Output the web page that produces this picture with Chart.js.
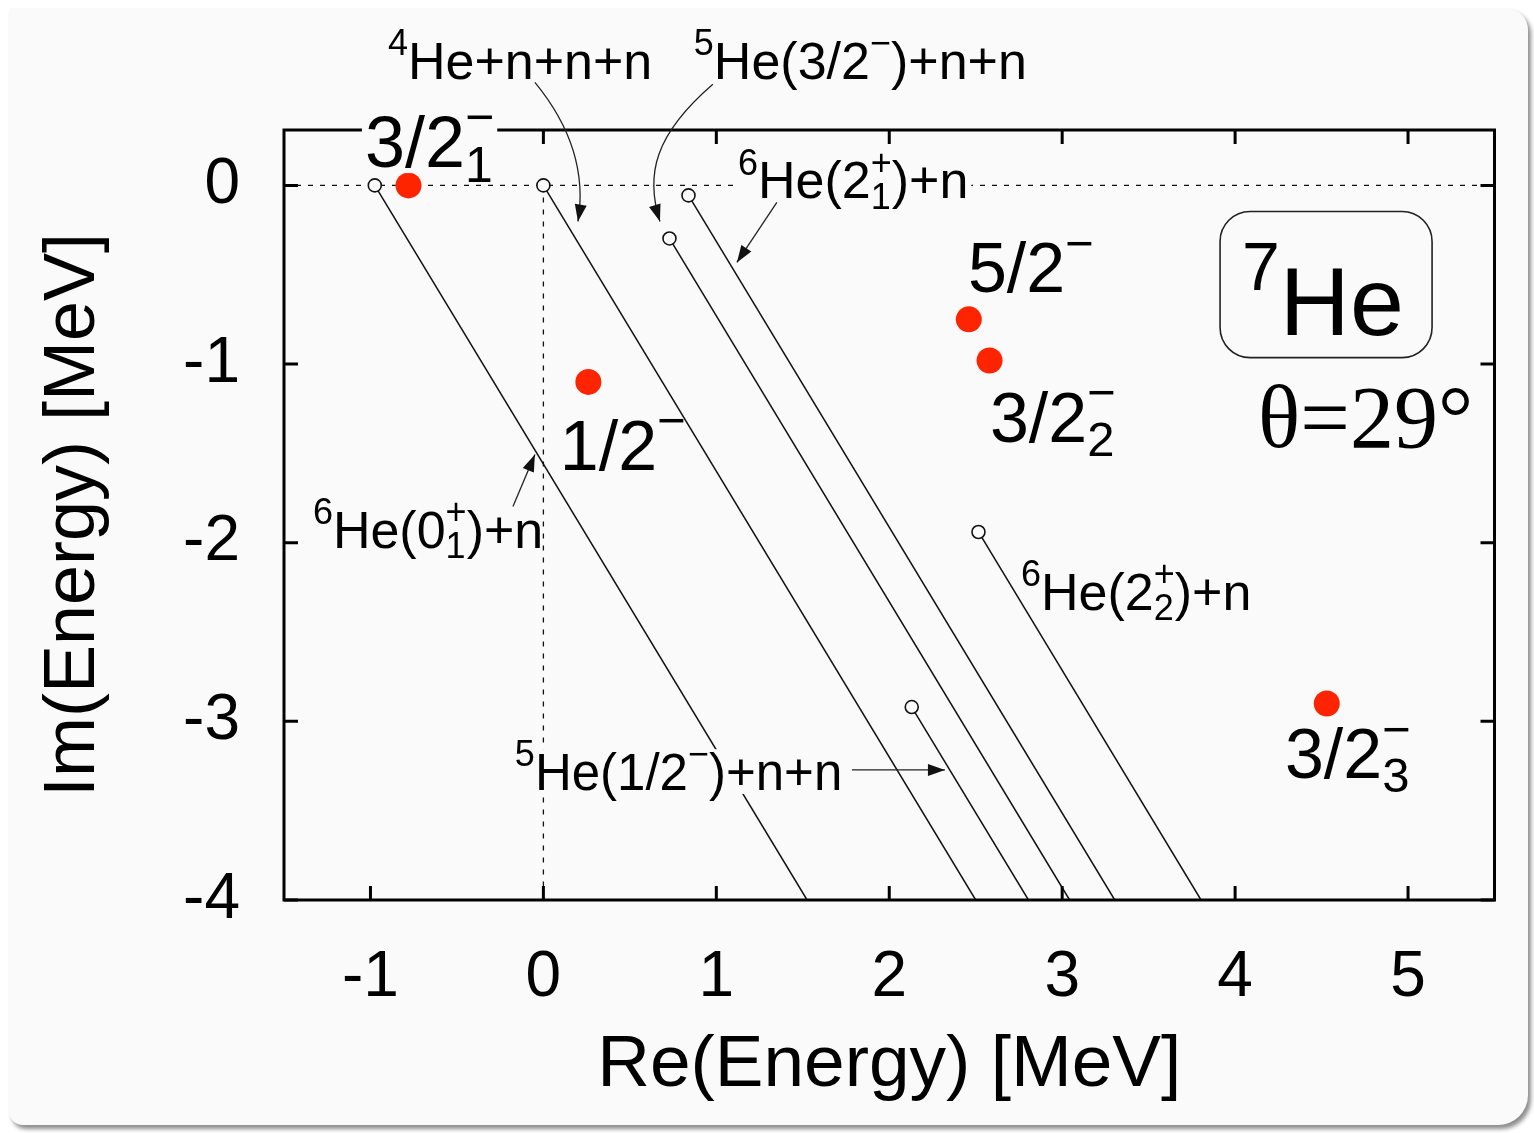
<!DOCTYPE html>
<html>
<head>
<meta charset="utf-8">
<script src="https://cdn.jsdelivr.net/npm/chart.js@4.4.1/dist/chart.umd.min.js"></script>
<style>
  html, body { margin: 0; padding: 0; background: #ffffff; }
  #card { position: absolute; left: 9px; top: 8px; width: 1519px; height: 1117px; background: #fafafa;
          border-radius: 2px 22px 30px 14px; box-shadow: 3px 4px 4px rgba(0,0,0,0.45); }
  #plot { position: absolute; left: 0; top: 0; }
</style>
</head>
<body>
<div id="card"></div>
<canvas id="plot" width="1534" height="1133"></canvas>
<script>
// complex-scaled resonance poles of 7He (red dots)
const resonanceRe = [-0.78, 0.26, 2.46, 2.58, 4.53];
const resonanceIm = [0.0, -1.10, -0.75, -0.98, -2.90];

// thresholds (open circles) and where their 2-theta cut lines leave the frame at Im = -4
const thresholdRe = [-0.975, 0.0, 0.729, 0.839, 2.516, 2.13];
const thresholdIm = [0.0, 0.0, -0.297, -0.056, -1.94, -2.92];
const cutEndRe = [1.525, 2.50, 3.043, 3.304, 3.803, 2.805];
const cutEndIm = [-4, -4, -4, -4, -4, -4];

const xTicks = [-1, 0, 1, 2, 3, 4, 5];
const yTicks = [-4, -3, -2, -1, 0];

const FONT = '"Liberation Sans", Arial, Helvetica, sans-serif';
const BG = '#fafafa';

Chart.defaults.font.family = FONT;

const datasets = [];
datasets.push({
    data: resonanceRe.map((x, i) => ({ x, y: resonanceIm[i] })),
    pointRadius: 13, pointBackgroundColor: 'rgb(255,36,0)', pointBorderWidth: 0, showLine: false
});
datasets.push({
    data: thresholdRe.map((x, i) => ({ x, y: thresholdIm[i] })),
    pointRadius: 6.5, pointBackgroundColor: BG, pointBorderColor: '#111', pointBorderWidth: 1.6, showLine: false
});
thresholdRe.forEach((x, i) => {
    datasets.push({
        data: [{ x, y: thresholdIm[i] }, { x: cutEndRe[i], y: cutEndIm[i] }],
        showLine: true, borderColor: '#111', borderWidth: 1.5, pointRadius: 0
    });
});
// dotted guide lines Im = 0 and Re = 0
datasets.push({
    data: [{ x: -1.5, y: 0 }, { x: 5.5, y: 0 }],
    showLine: true, borderColor: '#111', borderWidth: 1.3, borderDash: [5, 7], pointRadius: 0
});
datasets.push({
    data: [{ x: 0, y: 0 }, { x: 0, y: -4 }],
    showLine: true, borderColor: '#111', borderWidth: 1.3, borderDash: [5, 7], pointRadius: 0
});

// text labels: position in data units, font size, parts (string = normal, {sup, sub} = scripts)
const labels = [
    { x: -0.899, y: 0.594, size: 52, parts: [{ sup: '4' }, 'He+n+n+n'] },
    { x: 0.870, y: 0.594, size: 52, parts: [{ sup: '5' }, 'He(3/2', { sup: '\u2212' }, ')+n+n'] },
    { x: -1.032, y: 0.101, size: 72, parts: ['3/2', { sup: '\u2212', sub: '1' }], box: true },
    { x: 1.125, y: -0.073, size: 52, parts: [{ sup: '6' }, 'He(2', { sup: '+', sub: '1' }, ')+n'], box: true },
    { x: -1.333, y: -2.028, size: 52, parts: [{ sup: '6' }, 'He(0', { sup: '+', sub: '1' }, ')+n'] },
    { x: 0.095, y: -1.591, size: 70, parts: ['1/2', { sup: '\u2212' }] },
    { x: 2.455, y: -0.599, size: 70, parts: ['5/2', { sup: '\u2212' }] },
    { x: 2.582, y: -1.434, size: 70, parts: ['3/2', { sup: '\u2212', sub: '2' }] },
    { x: 2.762, y: -2.375, size: 52, parts: [{ sup: '6' }, 'He(2', { sup: '+', sub: '2' }, ')+n'] },
    { x: 4.288, y: -3.317, size: 70, parts: ['3/2', { sup: '\u2212', sub: '3' }] },
    { x: -0.165, y: -3.384, size: 51, parts: [{ sup: '5' }, 'He(1/2', { sup: '\u2212' }, ')+n+n'], box: true },
    { x: 4.040, y: -0.835, size: 97, parts: [{ sup: '7' }, 'He'] }
];

// arrows: list of control points in data units, head at the last point
const arrows = [
    [[-0.049, 0.577], [0.269, 0.202], [0.200, -0.202]],
    [[0.980, 0.566], [0.645, 0.286], [0.587, 0.062], [0.674, -0.202]],
    [[1.350, -0.095], [1.119, -0.431]],
    [[-0.176, -1.798], [-0.049, -1.507]],
    [[1.784, -3.272], [2.322, -3.272]]
];

function drawRich(ctx, x, y, size, parts, box) {
    const small = Math.round(size * 0.7);
    const mainFont = size + 'px ' + FONT;
    const smallFont = small + 'px ' + FONT;
    const widths = parts.map(p => {
        if (typeof p === 'string') { ctx.font = mainFont; return ctx.measureText(p).width; }
        ctx.font = smallFont;
        return Math.max(p.sup ? ctx.measureText(p.sup).width : 0, p.sub ? ctx.measureText(p.sub).width : 0);
    });
    const total = widths.reduce((a, b) => a + b, 0);
    if (box) {
        ctx.fillStyle = BG;
        ctx.fillRect(x - 3, y - size * 0.8, total + 6, size * 0.88);
    }
    ctx.fillStyle = '#000';
    ctx.textAlign = 'left';
    ctx.textBaseline = 'alphabetic';
    let cx = x;
    parts.forEach((p, i) => {
        if (typeof p === 'string') {
            ctx.font = mainFont;
            ctx.fillText(p, cx, y);
        } else {
            ctx.font = smallFont;
            if (p.sup) ctx.fillText(p.sup, cx, y - size * 0.46);
            if (p.sub) ctx.fillText(p.sub, cx, y + size * 0.2);
        }
        cx += widths[i];
    });
}

function arrowHead(ctx, tx, ty, fx, fy) {
    const a = Math.atan2(ty - fy, tx - fx);
    const len = 17, hw = 6;
    ctx.beginPath();
    ctx.moveTo(tx, ty);
    ctx.lineTo(tx - len * Math.cos(a) + hw * Math.sin(a), ty - len * Math.sin(a) - hw * Math.cos(a));
    ctx.lineTo(tx - len * Math.cos(a) - hw * Math.sin(a), ty - len * Math.sin(a) + hw * Math.cos(a));
    ctx.closePath();
    ctx.fill();
}

const decorPlugin = {
    id: 'decor',
    afterDatasetsDraw(chart) {
        const { ctx, chartArea: a, scales: { x, y } } = chart;
        ctx.save();
        // frame with inward ticks on all four sides
        ctx.strokeStyle = '#000';
        ctx.lineWidth = 3;
        ctx.strokeRect(a.left, a.top, a.right - a.left, a.bottom - a.top);
        ctx.beginPath();
        xTicks.forEach(v => {
            const px = x.getPixelForValue(v);
            ctx.moveTo(px, a.bottom); ctx.lineTo(px, a.bottom - 14);
            ctx.moveTo(px, a.top); ctx.lineTo(px, a.top + 14);
        });
        yTicks.forEach(v => {
            const py = y.getPixelForValue(v);
            ctx.moveTo(a.left, py); ctx.lineTo(a.left + 14, py);
            ctx.moveTo(a.right, py); ctx.lineTo(a.right - 14, py);
        });
        ctx.stroke();

        // labels
        labels.forEach(l => drawRich(ctx, x.getPixelForValue(l.x), y.getPixelForValue(l.y), l.size, l.parts, l.box));

        // 7He rounded box
        const bx0 = x.getPixelForValue(3.913), bx1 = x.getPixelForValue(5.139);
        const by0 = y.getPixelForValue(-0.146), by1 = y.getPixelForValue(-0.964);
        ctx.lineWidth = 1.6;
        ctx.strokeStyle = '#222';
        ctx.beginPath();
        ctx.roundRect(bx0, by0, bx1 - bx0, by1 - by0, 30);
        ctx.stroke();

        // theta
        ctx.font = '88px "Liberation Serif", "Times New Roman", serif';
        ctx.fillStyle = '#000';
        ctx.fillText('\u03b8=29\u00b0', x.getPixelForValue(4.133), y.getPixelForValue(-1.462));

        // arrows
        ctx.strokeStyle = '#222';
        ctx.fillStyle = '#111';
        ctx.lineWidth = 1.3;
        arrows.forEach(pts => {
            const p = pts.map(q => [x.getPixelForValue(q[0]), y.getPixelForValue(q[1])]);
            ctx.beginPath();
            ctx.moveTo(p[0][0], p[0][1]);
            if (p.length === 2) ctx.lineTo(p[1][0], p[1][1]);
            else if (p.length === 3) ctx.quadraticCurveTo(p[1][0], p[1][1], p[2][0], p[2][1]);
            else ctx.bezierCurveTo(p[1][0], p[1][1], p[2][0], p[2][1], p[3][0], p[3][1]);
            ctx.stroke();
            const n = p.length;
            arrowHead(ctx, p[n - 1][0], p[n - 1][1], p[n - 2][0], p[n - 2][1]);
        });
        ctx.restore();
    }
};

new Chart(document.getElementById('plot'), {
    type: 'scatter',
    data: { datasets },
    options: {
        responsive: false,
        animation: false,
        devicePixelRatio: 1,
        layout: { padding: { top: 130, right: 39.5, left: 0, bottom: 0 } },
        plugins: { legend: { display: false }, tooltip: { enabled: false } },
        scales: {
            x: {
                type: 'linear', min: -1.5, max: 5.5,
                afterFit: s => { s.height = 233; },
                afterBuildTicks: s => { s.ticks = xTicks.map(v => ({ value: v })); },
                grid: { display: false, drawTicks: false },
                border: { display: false },
                ticks: { padding: 40, color: '#000', font: { size: 64 } },
                title: { display: true, text: 'Re(Energy) [MeV]', color: '#000', font: { size: 73 }, padding: { top: 0, bottom: 23 } }
            },
            y: {
                type: 'linear', min: -4, max: 0.31,
                afterFit: s => { s.width = 284; },
                afterBuildTicks: s => { s.ticks = yTicks.map(v => ({ value: v })); },
                grid: { display: false, drawTicks: false },
                border: { display: false },
                ticks: { padding: 44, color: '#000', font: { size: 64 } },
                title: { display: true, text: 'Im(Energy) [MeV]', color: '#000', font: { size: 72 }, padding: { top: 31, bottom: 0 } }
            }
        }
    },
    plugins: [decorPlugin]
});
</script>
</body>
</html>
